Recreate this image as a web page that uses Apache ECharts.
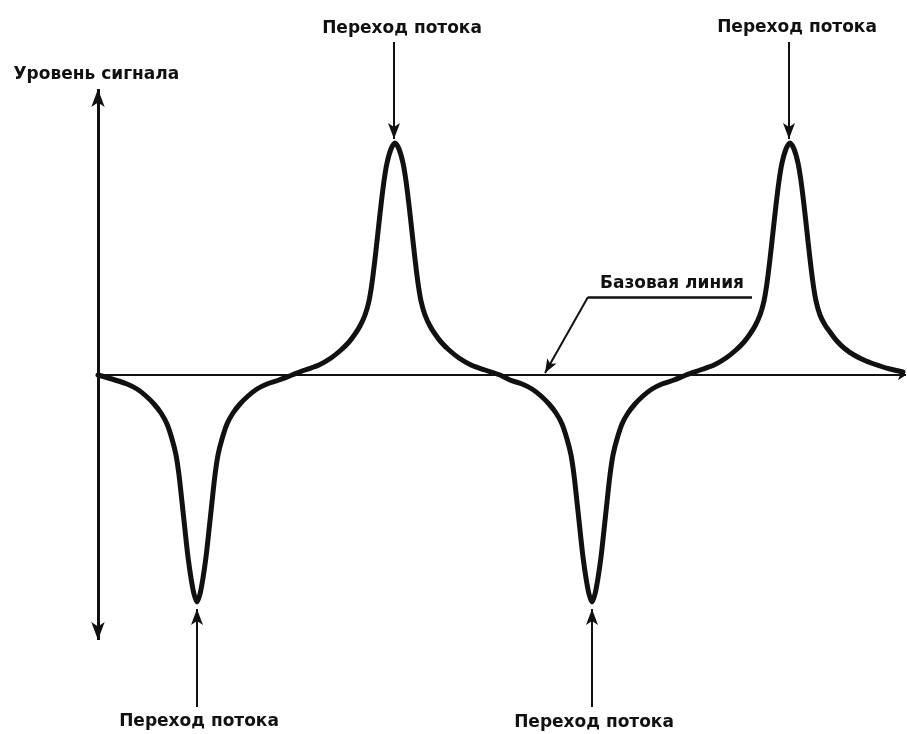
<!DOCTYPE html>
<html>
<head>
<meta charset="utf-8">
<script src="https://cdn.jsdelivr.net/npm/echarts@6.0.0/dist/echarts.min.js"></script>
<style>
  html, body { margin: 0; padding: 0; background: #fff; }
  #chart { width: 907px; height: 734px; }
</style>
</head>
<body>
<div id="chart"></div>
<script>
// форма сигнала: время (усл. ед.) и уровень сигнала (усл. ед.)
// провал 1
const trough1X = [0, 1.7, 2.9, 3.9, 4.8, 5.6, 6.3, 6.9, 7.4, 7.8, 8.1, 8.4, 8.7, 9.0, 9.3, 9.6, 9.9,
  10.2, 10.5, 10.8, 11.1, 11.4, 11.7, 12.0, 12.4, 12.9, 13.5, 14.2, 15.0, 15.9, 16.9, 18.1, 19.4];
const trough1Y = [0, -0.05, -0.09, -0.14, -0.21, -0.29, -0.38, -0.49, -0.64, -0.80, -1.00, -1.27, -1.55, -1.82, -2.03, -2.19, -2.27,
  -2.19, -2.03, -1.82, -1.55, -1.27, -1.00, -0.80, -0.64, -0.49, -0.38, -0.29, -0.21, -0.14, -0.09, -0.05, 0];
// пик 1
const peak1X = [20.7, 22.1, 23.3, 24.3, 25.1, 25.7, 26.2, 26.7, 27.1, 27.4, 27.7, 28.0, 28.3, 28.6, 28.9, 29.3, 29.7,
  30.1, 30.5, 30.8, 31.1, 31.4, 31.7, 32.0, 32.3, 32.7, 33.2, 33.7, 34.3, 35.1, 36.1, 37.3, 38.7, 40.2];
const peak1Y = [0.05, 0.10, 0.17, 0.25, 0.33, 0.41, 0.49, 0.60, 0.74, 0.92, 1.16, 1.43, 1.70, 1.94, 2.12, 2.26, 2.32,
  2.26, 2.12, 1.94, 1.70, 1.43, 1.16, 0.92, 0.74, 0.60, 0.49, 0.41, 0.33, 0.25, 0.17, 0.10, 0.05, 0];
// провал 2
const trough2X = [41.2, 42.4, 43.4, 44.3, 45.1, 45.8, 46.4, 46.9, 47.3, 47.6, 47.9, 48.2, 48.5, 48.8, 49.1, 49.4,
  49.7, 50.0, 50.3, 50.6, 50.9, 51.2, 51.5, 51.9, 52.4, 53.0, 53.7, 54.5, 55.4, 56.4, 57.6, 58.8];
const trough2Y = [-0.05, -0.09, -0.14, -0.21, -0.29, -0.38, -0.49, -0.64, -0.80, -1.00, -1.27, -1.55, -1.82, -2.03, -2.19, -2.27,
  -2.19, -2.03, -1.82, -1.55, -1.27, -1.00, -0.80, -0.64, -0.49, -0.38, -0.29, -0.21, -0.14, -0.09, -0.05, 0];
// пик 2
const peak2X = [60.2, 61.6, 62.8, 63.8, 64.6, 65.2, 65.7, 66.2, 66.6, 66.9, 67.2, 67.5, 67.8, 68.1, 68.4, 68.8, 69.2,
  69.6, 70.0, 70.3, 70.6, 70.9, 71.2, 71.5, 71.8, 72.2, 72.7, 73.2, 73.8, 74.6, 75.6, 76.8, 78.2, 79.2, 80.5];
const peak2Y = [0.05, 0.10, 0.17, 0.25, 0.33, 0.41, 0.49, 0.60, 0.74, 0.92, 1.16, 1.43, 1.70, 1.94, 2.12, 2.26, 2.32,
  2.26, 2.12, 1.94, 1.70, 1.43, 1.16, 0.92, 0.74, 0.60, 0.50, 0.43, 0.35, 0.27, 0.20, 0.14, 0.09, 0.06, 0.03];

// подписи
const axisTitle = 'Уровень сигнала';
const transitionText = 'Переход потока';
const baselineText = 'Базовая линия';

const ink = '#111';
const font = {
  fontFamily: '"DejaVu Sans", sans-serif',
  fontWeight: 'bold',
  fontSize: 17,
  color: ink,
};

const waveX = [].concat(trough1X, peak1X, trough2X, peak2X);
const waveY = [].concat(trough1Y, peak1Y, trough2Y, peak2Y);

const myChart = echarts.init(document.getElementById('chart'), null, { renderer: 'canvas' });

// стрелка: [x1, y1] -> [x2, y2], наконечник в конце
function arrow(from, to, size, width) {
  return [
    { coord: from, symbol: 'none', lineStyle: { width: width } },
    { coord: to, symbol: 'arrow', symbolSize: size },
  ];
}
function text(coord, str, pos) {
  return {
    coord: coord,
    label: Object.assign({ show: true, formatter: str, position: pos || 'inside', distance: 0 }, font),
  };
}

myChart.setOption({
  backgroundColor: '#fff',
  animation: false,
  grid: { left: 0, right: 0, top: 0, bottom: 0 },
  xAxis: { type: 'value', min: -9.8, max: 80.9, show: false },
  yAxis: { type: 'value', min: -3.59, max: 3.75, show: false },
  series: [
    {
      type: 'line',
      data: waveX.map((x, i) => [x, waveY[i]]),
      showSymbol: false,
      smooth: 0.3,
      lineStyle: { color: ink, width: 5, join: 'round', cap: 'round' },
      silent: true,
      markLine: {
        silent: true,
        label: { show: false },
        lineStyle: { color: ink, type: 'solid', width: 2 },
        data: [
          // ось уровня сигнала (стрелки с двух сторон)
          [
            { coord: [0, -2.65], symbol: 'arrow', symbolSize: [10, 18], lineStyle: { width: 3 } },
            { coord: [0, 2.86], symbol: 'arrow', symbolSize: [10, 18] },
          ],
          // базовая линия
          arrow([0, 0], [80.8, 0], [8, 8], 2),
          // переходы потока
          arrow([29.6, 3.33], [29.6, 2.36], [9, 16], 2),
          arrow([69.1, 3.33], [69.1, 2.36], [9, 16], 2),
          arrow([9.9, -3.32], [9.9, -2.34], [9, 16], 2),
          arrow([49.4, -3.32], [49.4, -2.34], [9, 16], 2),
          // выноска «Базовая линия»
          arrow([65.4, 0.78], [49.0, 0.78], 0, 2.5),
          arrow([49.0, 0.78], [44.7, 0.02], [8, 14], 2),
        ],
      },
      markPoint: {
        silent: true,
        symbol: 'circle',
        symbolSize: 1,
        itemStyle: { color: 'transparent' },
        data: [
          text([-8.5, 3.0], axisTitle, 'right'),
          text([30.4, 3.46], transitionText),
          text([69.9, 3.47], transitionText),
          text([10.1, -3.47], transitionText),
          text([49.6, -3.48], transitionText),
          text([57.4, 0.91], baselineText),
        ],
      },
    },
  ],
});
</script>
</body>
</html>
